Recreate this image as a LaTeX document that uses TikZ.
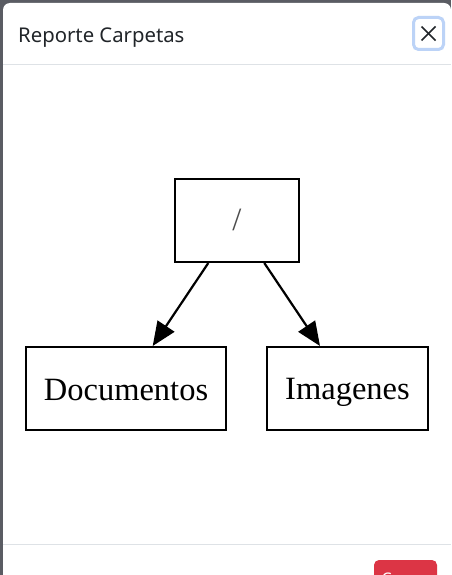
\documentclass[tikz,border=0pt]{standalone}
\usepackage{fontspec}
\setmainfont{Liberation Serif}
\newfontfamily\uifont{Noto Sans}
\usetikzlibrary{arrows.meta}
\definecolor{backdrop}{HTML}{5A5C63}
\definecolor{sepline}{HTML}{DEE2E6}
\definecolor{titletext}{HTML}{212529}
\definecolor{focusring}{HTML}{BCD3F7}
\definecolor{dangerred}{HTML}{DC3545}
\tikzset{
  treebox/.style={draw=black, line width=2pt, inner sep=0pt, text depth=0pt, font=\fontsize{32.5}{36}\selectfont},
  treearrow/.style={line width=2.2pt, -{Triangle[length=24pt,width=20pt]}},
  sepstyle/.style={draw=sepline, line width=1pt}
}
\begin{document}
\begin{tikzpicture}[x=1pt,y=-1pt]
\clip (0,0) rectangle (451,575);
\fill[backdrop] (0,0) rectangle (451,575);
\fill[white, rounded corners=7pt] (3,3) rectangle (451,620);
% header
\node[anchor=base west, text=titletext, font=\uifont\fontsize{20.3}{23}\selectfont, inner sep=0pt] (title) at (18,43) {Reporte Carpetas};
\node[draw=focusring, line width=3pt, rounded corners=5pt, minimum width=30pt, minimum height=32pt, inner sep=0pt] (closebtn) at (428.5,33.5) {};
\draw[line width=1.5pt, titletext] ([shift={(-7,-7)}]closebtn.center) -- ([shift={(7,7)}]closebtn.center);
\draw[line width=1.5pt, titletext] ([shift={(-7,7)}]closebtn.center) -- ([shift={(7,-7)}]closebtn.center);
\coordinate (hsepL) at (3,64.5);
\coordinate (hsepR) at (451,64.5);
\draw[sepstyle] (hsepL) -- (hsepR);
% tree
\node[treebox, minimum width=124pt, minimum height=83pt, text height=19pt, text=black!70] (root) at (237,220.5) {/};
\node[treebox, minimum width=200pt, minimum height=83pt, text height=23pt] (doc) at (126,388.5) {Documentos};
\node[treebox, minimum width=161pt, minimum height=83pt, text height=22pt] (img) at (347.5,388.5) {Imagenes};
\draw[treearrow] ([xshift=-28.7pt]root.south) -- ([xshift=26.7pt]doc.north);
\draw[treearrow] ([xshift=27.3pt]root.south) -- ([xshift=-27.5pt]img.north);
% footer
\coordinate (fsepL) at (3,544.5);
\coordinate (fsepR) at (451,544.5);
\draw[sepstyle] (fsepL) -- (fsepR);
\fill[dangerred, rounded corners=5pt] (374,560) rectangle (437,610);
\node[anchor=base, text=white, font=\uifont\fontsize{16}{19}\selectfont, inner sep=0pt] (cerrar) at (405.5,584) {Cerrar};
\end{tikzpicture}
\end{document}
